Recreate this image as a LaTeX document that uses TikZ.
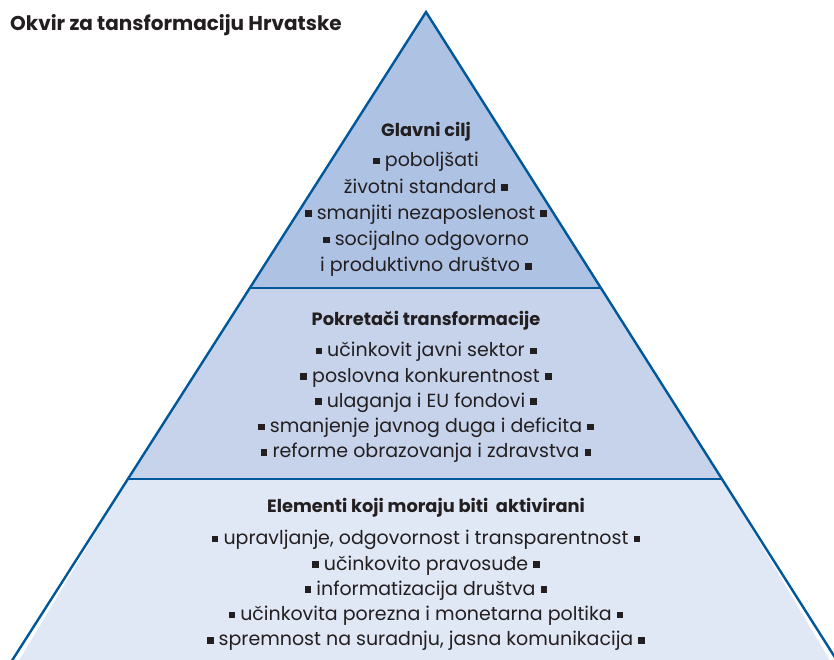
\documentclass[tikz,border=0pt]{standalone}
\usepackage{fontspec}
\setmainfont{Poppins}
\usetikzlibrary{calc}
\definecolor{plava}{HTML}{00589A}
\definecolor{vrhboja}{HTML}{AEC2E4}
\definecolor{sredboja}{HTML}{C6D3EB}
\definecolor{dnoboja}{HTML}{E0E8F5}
\definecolor{tekst}{HTML}{231F20}
\newcommand{\kv}{\rule[0.12em]{0.35em}{0.35em}} % kvadratic
\newcommand{\zaglavlje}[1]{{\fontsize{17.8}{25.3}\selectfont\bfseries #1}} % naslov razine
\tikzset{
  rub/.style={draw=plava, line width=2.4pt}, % rubovi piramide
  razina/.style={align=center, text=tekst, inner sep=0pt, anchor=north,
    font=\fontsize{19}{25.3}\selectfont}, % tekst razine
  glavni/.style={text=tekst, inner sep=0pt, font=\fontsize{20}{25}\selectfont\bfseries}
}
\begin{document}
\begin{tikzpicture}[x=1pt, y=-1pt]
\useasboundingbox (0,0) rectangle (834,659);
\clip (0,0) rectangle (834,659);

%Piramida
\coordinate (vrh) at (426,12);
\coordinate (L) at (13,659);
\coordinate (D) at (836,659);
\coordinate (L1) at ($(vrh)!0.4266!(L)$);
\coordinate (D1) at ($(vrh)!0.4266!(D)$);
\coordinate (L2) at ($(vrh)!0.7218!(L)$);
\coordinate (D2) at ($(vrh)!0.7218!(D)$);

\fill[vrhboja] (vrh) -- (L1) -- (D1) -- cycle;
\fill[sredboja] (L1) -- (L2) -- (D2) -- (D1) -- cycle;
\fill[dnoboja] (L2) -- ($(L)+(-5,20)$) -- ($(D)+(5,20)$) -- (D2) -- cycle;

\draw[rub] (L1) -- (D1);
\draw[rub] (L2) -- (D2);
\draw[rub, line join=miter] ($(vrh)!1.03!(L)$) -- (vrh) -- ($(vrh)!1.03!(D)$);

%Tekst
\node[glavni, anchor=base west] (naslov) at (10,30) {Okvir za tansformaciju Hrvatske};

\node[razina, font=\fontsize{19}{26.3}\selectfont] (cilj) at (426,122) {\zaglavlje{Glavni cilj}\\[4pt]
  \kv\ poboljšati\\
  životni standard \kv\\
  \kv\ smanjiti nezaposlenost \kv\\
  \kv\ socijalno odgovorno\\
  i produktivno društvo \kv};

\node[razina] (pokretaci) at (426,311) {\zaglavlje{Pokretači transformacije}\\[6pt]
  \kv\ učinkovit javni sektor \kv\\
  \kv\ poslovna konkurentnost \kv\\
  \kv\ ulaganja i EU fondovi \kv\\
  \kv\ smanjenje javnog duga i deficita \kv\\
  \kv\ reforme obrazovanja i zdravstva \kv};

\node[razina] (elementi) at (426,498) {\zaglavlje{Elementi koji moraju biti~ aktivirani}\\[7pt]
  \kv\ upravljanje, odgovornost i transparentnost \kv\\
  \kv\ učinkovito pravosuđe \kv\\
  \kv\ informatizacija društva \kv\\
  \kv\ učinkovita porezna i monetarna poltika \kv\\
  \kv\ spremnost na suradnju, jasna komunikacija \kv};
\end{tikzpicture}
\end{document}
